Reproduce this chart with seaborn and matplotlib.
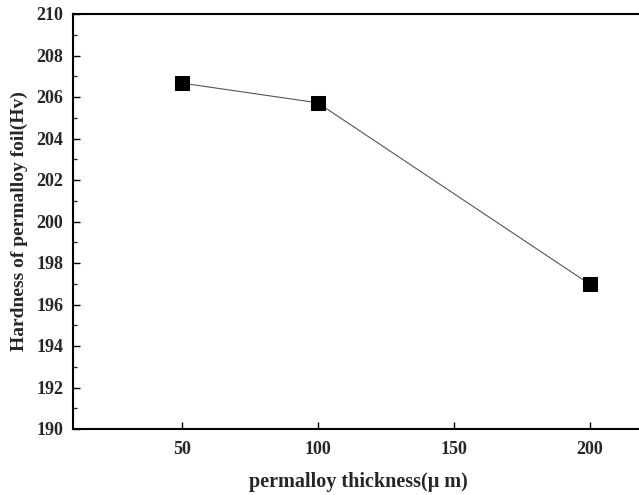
import matplotlib
matplotlib.use("Agg")
import matplotlib.pyplot as plt
import seaborn as sns
import pandas as pd
from matplotlib.ticker import MultipleLocator

thickness = [50, 100, 200]
hardness = [206.67, 205.72, 196.98]
x_ticks = [50, 100, 150, 200]
y_ticks = [190, 192, 194, 196, 198, 200, 202, 204, 206, 208, 210]

df = pd.DataFrame({"thickness": thickness, "hardness": hardness})

sns.set_style("ticks")
plt.rcParams['font.family'] = ['Liberation Serif', 'DejaVu Serif']
plt.rcParams['font.weight'] = 'bold'

fig = plt.figure(figsize=(6.39, 4.95), dpi=100)
ax = fig.add_axes([73/639, 1-429/495, (644-73)/639, (429-14)/495])

sns.lineplot(data=df, x="thickness", y="hardness", ax=ax, color="#555555",
             linewidth=0.8, marker="s", markersize=10,
             markerfacecolor="black", markeredgecolor="black")

ax.set_xlim(10, 220)
ax.set_ylim(190, 210)
ax.set_xticks(x_ticks)
ax.set_yticks(y_ticks)
ax.yaxis.set_minor_locator(MultipleLocator(1))
ax.tick_params(axis='both', which='major', direction='in', length=5, width=1,
               labelsize=13, color='black', pad=6)
ax.tick_params(axis='y', which='minor', direction='in', length=3, width=1)
for lab in ax.get_xticklabels() + ax.get_yticklabels():
    lab.set_fontweight('bold')
ax.tick_params(axis='x', pad=9)
ax.tick_params(axis='y', pad=7)

for s in ax.spines.values():
    s.set_linewidth(1.5)
    s.set_color('black')

ax.set_xlabel("permalloy thickness(\u03bc m)", fontsize=14.5, fontweight='bold', labelpad=10)
ax.set_ylabel("Hardness of permalloy foil(Hv)", fontsize=14, fontweight='bold')
ax.yaxis.set_label_coords(-0.079, 0.5)

fig.savefig("out.png", dpi=100)
